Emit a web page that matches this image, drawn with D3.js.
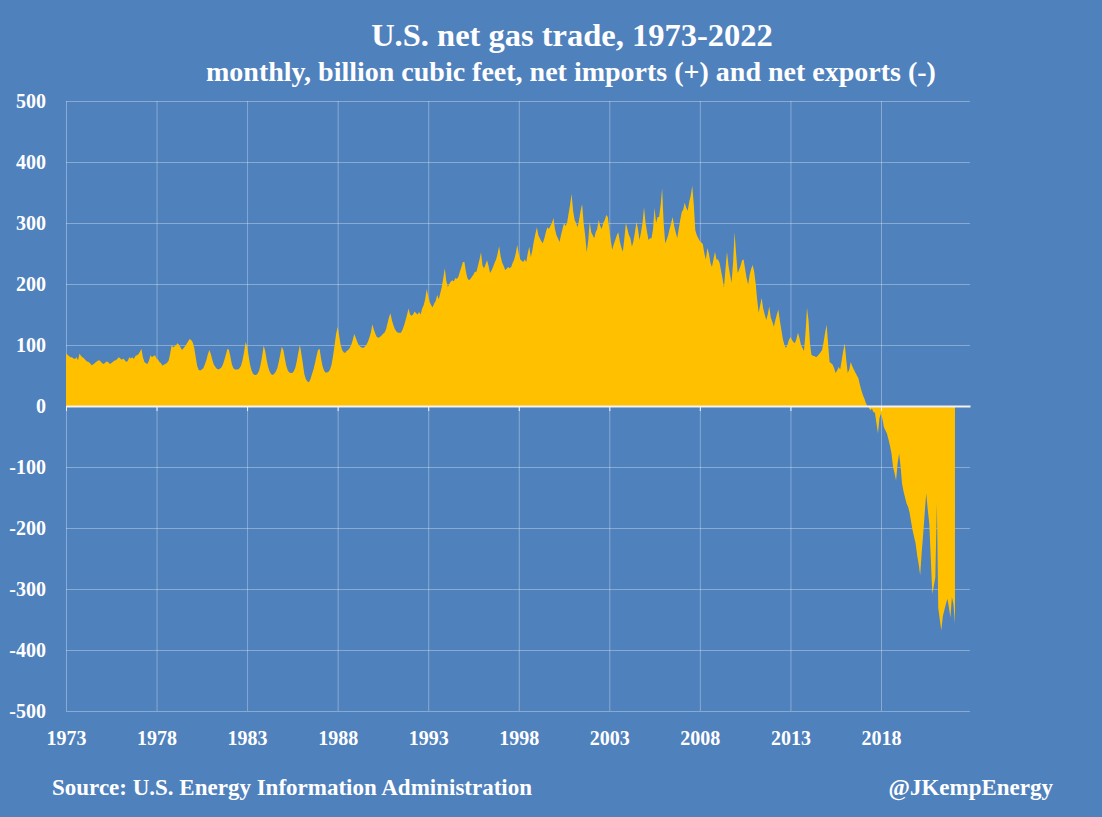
<!DOCTYPE html>
<html>
<head>
<meta charset="utf-8">
<script src="https://cdn.jsdelivr.net/npm/d3@7"></script>
<style>
  html, body { margin: 0; padding: 0; background: #4f81bd; }
  svg { display: block; }
  text { font-family: "Liberation Serif", "Times New Roman", serif; font-weight: bold; fill: #ffffff; }
</style>
</head>
<body>
<svg id="chart" width="1102" height="817"></svg>
<script>
const titleText = "U.S. net gas trade, 1973-2022";
const subtitleText = "monthly, billion cubic feet, net imports (+) and net exports (-)";
const sourceText = "Source: U.S. Energy Information Administration";
const handleText = "@JKempEnergy";

const tickYears = [1973, 1978, 1983, 1988, 1993, 1998, 2003, 2008, 2013, 2018];
const yTicks = [500, 400, 300, 200, 100, 0, -100, -200, -300, -400, -500];

// monthly net imports, bcf, Jan 1973 onward
const trade1970s = [
  86, 84, 82, 80, 80, 78, 77, 80, 75, 86, 82, 80,       // 1973
  78, 75, 73, 72, 70, 67, 68, 70, 72, 74, 75, 73,       // 1974
  70, 69, 71, 73, 72, 69, 70, 72, 74, 75, 77, 80,       // 1975
  78, 76, 78, 75, 72, 74, 80, 78, 80, 77, 82, 83,       // 1976
  85, 89, 94, 80, 72, 70, 69, 74, 83, 80, 82, 83,       // 1977
  78, 76, 72, 70, 66, 68, 69, 71, 74, 85, 100, 96,      // 1978
  98, 100, 103, 100, 96, 92, 95, 98, 102, 106, 110, 108 // 1979
];
const trade1980s = [
  104, 95, 80, 65, 59, 58, 60, 62, 68, 75, 85, 92,      // 1980
  85, 75, 68, 64, 61, 60, 61, 63, 68, 76, 85, 94,       // 1981
  92, 80, 68, 62, 60, 60, 60, 62, 66, 75, 88, 105,      // 1982
  98, 82, 68, 58, 53, 51, 51, 53, 58, 68, 82, 99,       // 1983
  90, 75, 64, 56, 52, 51, 53, 56, 62, 72, 85, 97,       // 1984
  92, 78, 66, 58, 55, 54, 54, 57, 63, 74, 88, 100,      // 1985
  85, 68, 52, 44, 40, 39, 44, 52, 60, 70, 82, 92,       // 1986
  94, 78, 66, 58, 55, 55, 56, 60, 68, 82, 100, 118,     // 1987
  130, 115, 100, 92, 88, 87, 90, 92, 95, 100, 108, 118, // 1988
  112, 105, 100, 97, 96, 95, 97, 100, 105, 112, 120, 134 // 1989
];
const trade1990s = [
  125, 118, 113, 112, 113, 115, 118, 120, 125, 135, 145, 152, // 1990
  140, 132, 126, 122, 120, 120, 120, 125, 132, 140, 150, 160, // 1991
  150, 148, 150, 155, 152, 150, 154, 150, 160, 165, 175, 192, // 1992
  180, 170, 165, 162, 168, 172, 182, 175, 185, 195, 210, 226, // 1993
  205, 195, 200, 204, 206, 204, 210, 208, 212, 220, 228, 236, // 1994
  236, 220, 210, 206, 208, 212, 215, 220, 220, 230, 240, 252, // 1995
  230, 226, 232, 239, 230, 218, 222, 228, 235, 240, 250, 262, // 1996
  245, 235, 230, 223, 225, 228, 226, 228, 235, 240, 250, 264, // 1997
  250, 240, 238, 236, 240, 236, 250, 261, 244, 255, 270, 282, // 1998
  293, 280, 275, 270, 267, 275, 285, 293, 290, 295, 300, 308  // 1999
];
const trade2000s = [
  290, 280, 275, 269, 280, 290, 300, 295, 300, 315, 330, 348, // 2000
  320, 305, 300, 293, 305, 320, 331, 300, 280, 252, 270, 302, // 2001
  285, 280, 275, 285, 290, 305, 295, 290, 300, 305, 313, 310, // 2002
  290, 270, 256, 265, 272, 280, 285, 270, 260, 253, 275, 300, // 2003
  290, 280, 275, 261, 270, 285, 302, 290, 272, 285, 300, 326, // 2004
  300, 285, 272, 275, 275, 290, 325, 300, 310, 310, 330, 357, // 2005
  300, 267, 272, 280, 290, 300, 310, 295, 285, 275, 290, 305, // 2006
  318, 322, 333, 325, 320, 335, 345, 361, 330, 288, 280, 275, // 2007
  270, 268, 265, 250, 240, 259, 250, 235, 228, 240, 253, 240, // 2008
  240, 235, 223, 210, 194, 225, 253, 230, 215, 202, 235, 285  // 2009
];
const trade2010s = [
  250, 218, 223, 230, 239, 240, 225, 210, 199, 215, 225, 231, // 2010
  220, 200, 175, 153, 165, 177, 160, 150, 141, 150, 163, 145, // 2011
  138, 130, 140, 150, 158, 140, 125, 110, 100, 95, 100, 108,  // 2012
  113, 108, 105, 103, 110, 120, 112, 100, 95, 90, 120, 161,   // 2013
  140, 100, 84, 82, 82, 80, 82, 85, 88, 92, 105, 120,         // 2014
  133, 100, 72, 70, 68, 62, 54, 58, 64, 60, 75, 90,           // 2015
  103, 75, 54, 60, 72, 65, 60, 55, 50, 46, 35, 26,            // 2016
  18, 12, 5, 0, -3, -7, -4, -10, -11, -28, -45, -20,          // 2017
  -12, -22, -35, -40, -45, -55, -65, -78, -100, -110, -122, -95, // 2018
  -78, -100, -127, -140, -150, -160, -165, -175, -190, -204, -215, -226 // 2019
];
const trade2020s = [
  -245, -260, -278, -240, -210, -175, -143, -170, -193, -250, -308, -295, // 2020
  -281, -160, -331, -350, -368, -345, -335, -325, -316, -330, -347, -313, // 2021
  -325, -357                                                              // 2022
];

const netTrade = [].concat(trade1970s, trade1980s, trade1990s, trade2000s, trade2010s, trade2020s);
const start = new Date(Date.UTC(1973, 0, 1));
const data = netTrade.map((v, i) => ({ date: d3.utcMonth.offset(start, i), value: v }));

const svg = d3.select("#chart");
const marginLeft = 66;
const plotRight = 970;
const plotTop = 101;
const plotBottom = 711;

const x = d3
  .scaleUtc()
  .domain([start, new Date(Date.UTC(2022, 11, 1))])
  .range([marginLeft, plotRight]);

const y = d3.scaleLinear().domain([-500, 500]).range([plotBottom, plotTop]);

const tickDates = tickYears.map((yr) => new Date(Date.UTC(yr, 0, 1)));

svg.append("rect").attr("width", 1102).attr("height", 817).attr("fill", "#4f81bd");

// horizontal grid
svg
  .append("g")
  .attr("transform", `translate(${marginLeft},0)`)
  .call(d3.axisLeft(y).tickValues(yTicks).tickSize(-(plotRight - marginLeft)).tickFormat(""))
  .call((g) => g.select(".domain").remove())
  .call((g) => g.selectAll("line").attr("stroke", "rgba(255,255,255,0.32)").attr("stroke-width", 1));

// vertical grid
svg
  .append("g")
  .attr("transform", `translate(0,${plotBottom})`)
  .call(d3.axisBottom(x).tickValues(tickDates).tickSize(-(plotBottom - plotTop)).tickFormat(""))
  .call((g) => g.select(".domain").remove())
  .call((g) => g.selectAll("line").attr("stroke", "rgba(255,255,255,0.32)").attr("stroke-width", 1));

const area = d3
  .area()
  .x((d) => x(d.date))
  .y0(y(0))
  .y1((d) => y(d.value));

svg.append("path").datum(data).attr("fill", "#ffc000").attr("d", area);

// zero line with small ticks
svg
  .append("g")
  .attr("transform", `translate(0,${y(0)})`)
  .call(d3.axisBottom(x).tickValues(tickDates).tickSize(5).tickSizeOuter(0).tickFormat(""))
  .call((g) => g.select(".domain").attr("stroke", "#f2f2f2").attr("stroke-width", 2))
  .call((g) => g.selectAll(".tick line").attr("stroke", "#f2f2f2").attr("stroke-width", 1));

// y labels (plain hyphen for negatives, as in the original)
svg
  .append("g")
  .attr("transform", `translate(${marginLeft},0)`)
  .call(d3.axisLeft(y).tickValues(yTicks).tickSize(0).tickPadding(20).tickFormat((d) => String(d)))
  .call((g) => g.select(".domain").remove())
  .call((g) => g.selectAll("text").attr("font-size", 20).attr("fill", "#fff").attr("font-family", null));

// x labels
svg
  .append("g")
  .attr("transform", `translate(0,${plotBottom})`)
  .call(d3.axisBottom(x).tickValues(tickDates).tickSize(0).tickPadding(20).tickFormat(d3.utcFormat("%Y")))
  .call((g) => g.select(".domain").remove())
  .call((g) => g.selectAll("text").attr("font-size", 20).attr("fill", "#fff").attr("font-family", null));

svg.append("text").attr("x", 572).attr("y", 46).attr("text-anchor", "middle").attr("font-size", 32.5).text(titleText);
svg.append("text").attr("x", 571).attr("y", 81).attr("text-anchor", "middle").attr("font-size", 28).text(subtitleText);
svg.append("text").attr("x", 52).attr("y", 795).attr("font-size", 23).text(sourceText);
svg.append("text").attr("x", 1053).attr("y", 795).attr("text-anchor", "end").attr("font-size", 23).text(handleText);
</script>
</body>
</html>
